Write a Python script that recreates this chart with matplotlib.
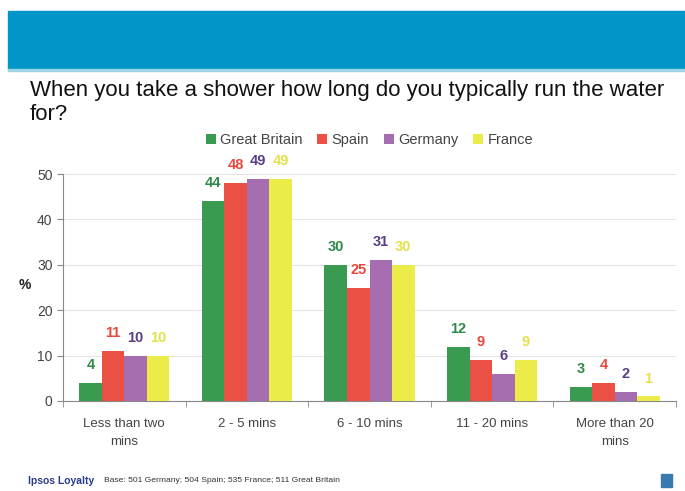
import matplotlib.pyplot as plt
import numpy as np
from matplotlib.patches import Rectangle

categories = ["Less than two\nmins", "2 - 5 mins", "6 - 10 mins", "11 - 20 mins", "More than 20\nmins"]
great_britain = [4, 44, 30, 12, 3]
spain = [11, 48, 25, 9, 4]
germany = [10, 49, 31, 6, 2]
france = [10, 49, 30, 9, 1]

series = [
    ("Great Britain", great_britain, "#3a9a52", "#2f8a48"),
    ("Spain", spain, "#ea5144", "#e8483c"),
    ("Germany", germany, "#a66db0", "#5a3f86"),
    ("France", france, "#ebeb4a", "#e2e24a"),
]

plt.rcParams['font.family'] = ['Liberation Sans', 'DejaVu Sans']

fig = plt.figure(figsize=(6.85, 4.91), dpi=100)
fig.patch.set_facecolor("white")

# header band
fig.patches.append(Rectangle((8 / 685, 1 - 69 / 491), 677 / 685, 58 / 491,
                             transform=fig.transFigure, color="#0096c8", zorder=0))
fig.patches.append(Rectangle((8 / 685, 1 - 71 / 491), 677 / 685, 2 / 491,
                             transform=fig.transFigure, color="#9fd4e6", zorder=0))

fig.text(30 / 685, 1 - 80 / 491, "When you take a shower how long do you typically run the water\nfor?",
         fontsize=16, color="#111111", va="top", ha="left", linespacing=1.2)

ax = fig.add_axes([63 / 685, 1 - 401 / 491, 613 / 685, 227 / 491])
x = np.arange(len(categories))
w = 0.184
for i, (name, vals, col, tcol) in enumerate(series):
    xs = x + (i - 1.5) * w
    ax.bar(xs, vals, width=w, color=col, label=name, zorder=3)
    for xi, v in zip(xs, vals):
        ax.text(xi, v + 2.4, str(v), ha="center", va="bottom", fontsize=10.5,
                fontweight="bold", color=tcol)

ax.set_xlim(-0.5, len(categories) - 0.5)
ax.set_ylim(0, 50)
ax.set_yticks([0, 10, 20, 30, 40, 50])
ax.grid(axis="y", color="#e4e4e4", linewidth=0.8, zorder=0)
ax.set_xticks(x)
ax.set_xticklabels(categories, fontsize=9.5, color="#444444", linespacing=1.75)
ax.set_xticks(np.arange(-0.5, len(categories)), minor=True)
ax.tick_params(axis="x", which="major", length=0, pad=12)
ax.tick_params(axis="x", which="minor", length=4, color="#888888")
ax.tick_params(axis="y", labelsize=10, labelcolor="#444444", color="#888888", length=4)
for s in ["top", "right"]:
    ax.spines[s].set_visible(False)
for s in ["left", "bottom"]:
    ax.spines[s].set_color("#888888")

fig.text(25 / 685, 1 - 285 / 491, "%", fontsize=10, fontweight="bold", color="#222222",
         ha="center", va="center")

ax.legend(loc="lower center", bbox_to_anchor=(0.5, 1.06), ncol=4, frameon=False,
          fontsize=10.5, handlelength=0.7, handleheight=0.7, handletextpad=0.3,
          columnspacing=1.0, labelcolor="#444444")

fig.text(28 / 685, 1 - 481 / 491, "Ipsos Loyalty", fontsize=7.5, color="#2a3a8c",
         fontweight="bold", va="center", ha="left")
fig.text(104 / 685, 1 - 480 / 491, "Base: 501 Germany; 504 Spain; 535 France; 511 Great Britain",
         fontsize=6.1, color="#333333", va="center", ha="left")
fig.patches.append(Rectangle((661 / 685, 1 - 487 / 491), 11 / 685, 13 / 491,
                             transform=fig.transFigure, color="#3a78b0", zorder=0))

fig.savefig("out.png", dpi=100)
